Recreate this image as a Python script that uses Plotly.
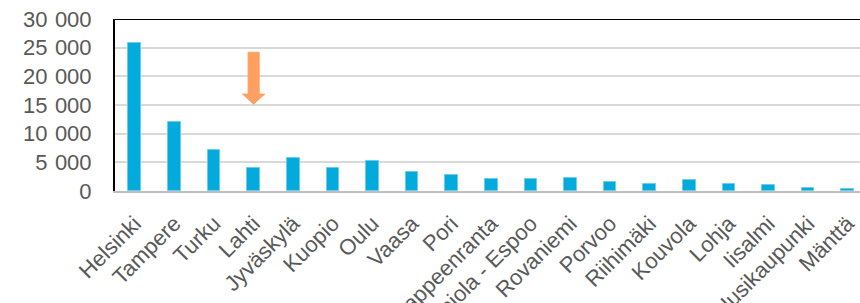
import plotly.graph_objects as go

categories = ["Helsinki", "Tampere", "Turku", "Lahti", "Jyväskylä", "Kuopio", "Oulu",
              "Vaasa", "Pori", "Lappeenranta", "Tapiola - Espoo", "Rovaniemi", "Porvoo",
              "Riihimäki", "Kouvola", "Lohja", "Iisalmi", "Uusikaupunki", "Mänttä"]
values = [25900, 12000, 7100, 4000, 5700, 3950, 5250, 3400, 2800, 2100, 2050, 2200,
          1570, 1170, 1870, 1220, 1050, 470, 300]
y_ticks = [0, 5000, 10000, 15000, 20000, 25000, 30000]
y_tick_labels = ["0", "5\u2004000", "10\u2004000", "15\u2004000", "20\u2004000",
                 "25\u2004000", "30\u2004000"]

fig = go.Figure()
fig.add_trace(go.Bar(
    x=categories, y=values, width=0.32,
    marker=dict(color="#02ABDB", line=dict(color="#6CCDEA", width=1)),
))

# arrow pointing at Lahti
ci = categories.index("Lahti")
sw, hw = 0.14, 0.28
y_top, y_head, y_tip = 24200, 16900, 15150
path = (f"M {ci-sw},{y_top} L {ci+sw},{y_top} L {ci+sw},{y_head} L {ci+hw},{y_head} "
        f"L {ci},{y_tip} L {ci-hw},{y_head} L {ci-sw},{y_head} Z")
fig.add_shape(type="path", path=path, xref="x", yref="y",
              fillcolor="#FFA062", line=dict(color="#FFA062", width=1))
# top border
fig.add_shape(type="line", xref="paper", yref="y", x0=0, x1=1, y0=30000, y1=30000,
              line=dict(color="black", width=2))

fig.update_layout(
    width=860, height=303,
    margin=dict(l=115, r=0, t=19, b=112),
    plot_bgcolor="white", paper_bgcolor="white",
    font=dict(family="Liberation Sans, Arial, sans-serif", color="#595959"),
    showlegend=False,
    bargap=0,
)
fig.update_xaxes(
    range=[-0.5, 18.31], tickangle=-45, tickfont=dict(size=22, color="#595959"),
    showline=True, linecolor="#BFBFBF", linewidth=2, ticks="", showgrid=False,
    ticklabelstandoff=9, automargin=False,
)
fig.update_yaxes(
    range=[0, 30000], tickvals=y_ticks, ticktext=y_tick_labels,
    tickfont=dict(size=22, color="#595959"),
    showgrid=True, gridcolor="#D9D9D9", gridwidth=1.5,
    showline=True, linecolor="black", linewidth=2, ticks="", zeroline=False,
    ticklabelstandoff=17, automargin=False,
)

fig.write_html("out.html", config={"displayModeBar": False},
               post_script="document.body.style.margin='0';")
